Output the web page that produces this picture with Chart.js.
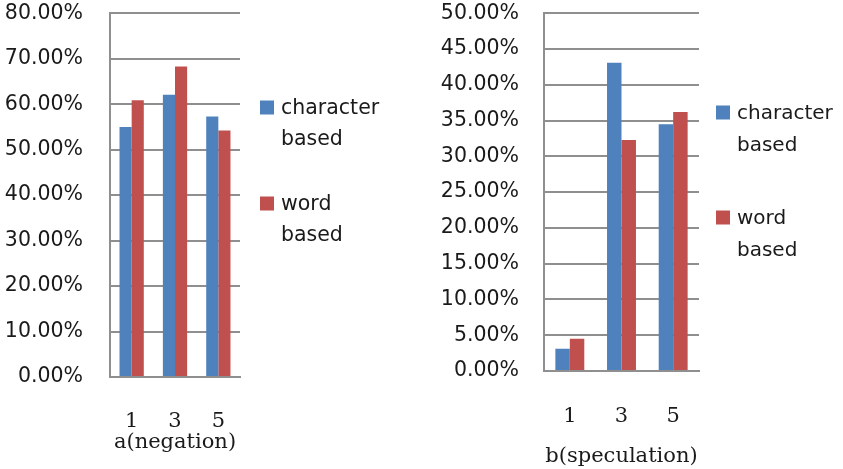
<!DOCTYPE html>
<html>
<head>
<meta charset="utf-8">
<script src="https://cdn.jsdelivr.net/npm/chart.js@4/dist/chart.umd.min.js"></script>
<style>
  html, body { margin: 0; padding: 0; background: #ffffff; }
  body { width: 843px; height: 469px; position: relative; overflow: hidden; }
  .panel { position: absolute; top: 0; }
  canvas { display: block; }
</style>
</head>
<body>
<div class="panel" style="left:0px"><canvas id="negation" width="420" height="469"></canvas></div>
<div class="panel" style="left:420px"><canvas id="speculation" width="423" height="469"></canvas></div>
<script>
// Window sizes compared in each panel
const categories = ['1', '3', '5'];
const seriesNames = ['character based', 'word based'];

// Panel a: negation (percent)
const negationCharacter = [55.0, 62.1, 57.3];
const negationWord = [60.9, 68.3, 54.2];

// Panel b: speculation (percent)
const speculationCharacter = [3.1, 43.1, 34.5];
const speculationWord = [4.5, 32.3, 36.2];

// Y-axis tick ranges
const negationTicks = { max: 80, step: 10 };
const speculationTicks = { max: 50, step: 5 };

const BLUE = '#4F81BD';
const RED = '#C0504D';
const GRID = '#8f8f8f';
const TEXT = '#1a1a1a';

// Legend drawn at the right of each plot, each name wrapped onto two lines
const sideLegend = {
  id: 'sideLegend',
  afterDraw(chart, args, opts) {
    const ctx = chart.ctx;
    const area = chart.chartArea;
    ctx.save();
    ctx.font = opts.fontSize + 'px "DejaVu Sans"';
    ctx.textBaseline = 'middle';
    ctx.textAlign = 'left';
    chart.data.datasets.forEach((ds, i) => {
      const y0 = opts.itemY[i];
      const bx = area.right + opts.boxOffset;
      ctx.fillStyle = ds.backgroundColor;
      ctx.fillRect(bx, y0 - opts.box / 2 - 1.5, opts.box, opts.box);
      ctx.fillStyle = TEXT;
      ds.label.split(' ').forEach((word, j) => {
        ctx.fillText(word, bx + opts.textOffset, y0 + j * opts.lineGap);
      });
    });
    ctx.restore();
  }
};

function makeChart(id, title, charVals, wordVals, ticks, geo) {
  return new Chart(document.getElementById(id), {
    type: 'bar',
    data: {
      labels: categories,
      datasets: [
        { label: seriesNames[0], data: charVals, backgroundColor: BLUE },
        { label: seriesNames[1], data: wordVals, backgroundColor: RED }
      ]
    },
    options: {
      responsive: false,
      animation: false,
      devicePixelRatio: 1,
      categoryPercentage: 0.56,
      barPercentage: 1.0,
      layout: { padding: { top: geo.top, right: geo.right, bottom: 0, left: 0 } },
      plugins: {
        legend: { display: false },
        tooltip: { enabled: false },
        sideLegend: geo.legend
      },
      scales: {
        x: {
          grid: { drawOnChartArea: false, drawTicks: false },
          border: { color: GRID, width: 2 },
          ticks: { color: TEXT, padding: geo.xTickPad, font: { family: '"DejaVu Serif"', size: 21 } },
          title: {
            display: true, text: title, color: TEXT,
            font: { family: '"DejaVu Serif"', size: 21 },
            padding: { top: 0, bottom: geo.titlePad }
          },
          afterFit(scale) {
            scale.height = geo.xHeight;
            scale.paddingLeft = 0;
            scale.paddingRight = 0;
          }
        },
        y: {
          min: 0,
          max: ticks.max,
          grid: { color: GRID, lineWidth: 2, drawTicks: false },
          border: { color: GRID, width: 2 },
          ticks: {
            stepSize: ticks.step,
            color: TEXT,
            padding: geo.yTickPad,
            font: { family: '"DejaVu Sans"', size: 20.5 },
            callback: v => v.toFixed(2) + '%'
          },
          afterFit(scale) {
            scale.width = geo.yWidth;
            scale.paddingTop = 0;
            scale.paddingBottom = 0;
          }
        }
      }
    },
    plugins: [sideLegend]
  });
}

makeChart('negation', 'a(negation)', negationCharacter, negationWord, negationTicks, {
  top: 13.3, right: 180, yWidth: 110, yTickPad: 27,
  xHeight: 92, xTickPad: 32, titlePad: 13.4,
  legend: { fontSize: 20.5, box: 14, boxOffset: 20, textOffset: 21, itemY: [109, 205], lineGap: 30.5 }
});

makeChart('speculation', 'b(speculation)', speculationCharacter, speculationWord, speculationTicks, {
  top: 13.3, right: 144, yWidth: 124, yTickPad: 25,
  xHeight: 98, xTickPad: 33, titlePad: 0,
  legend: { fontSize: 20, box: 14, boxOffset: 17, textOffset: 21, itemY: [114, 219], lineGap: 32 }
});
</script>
</body>
</html>
